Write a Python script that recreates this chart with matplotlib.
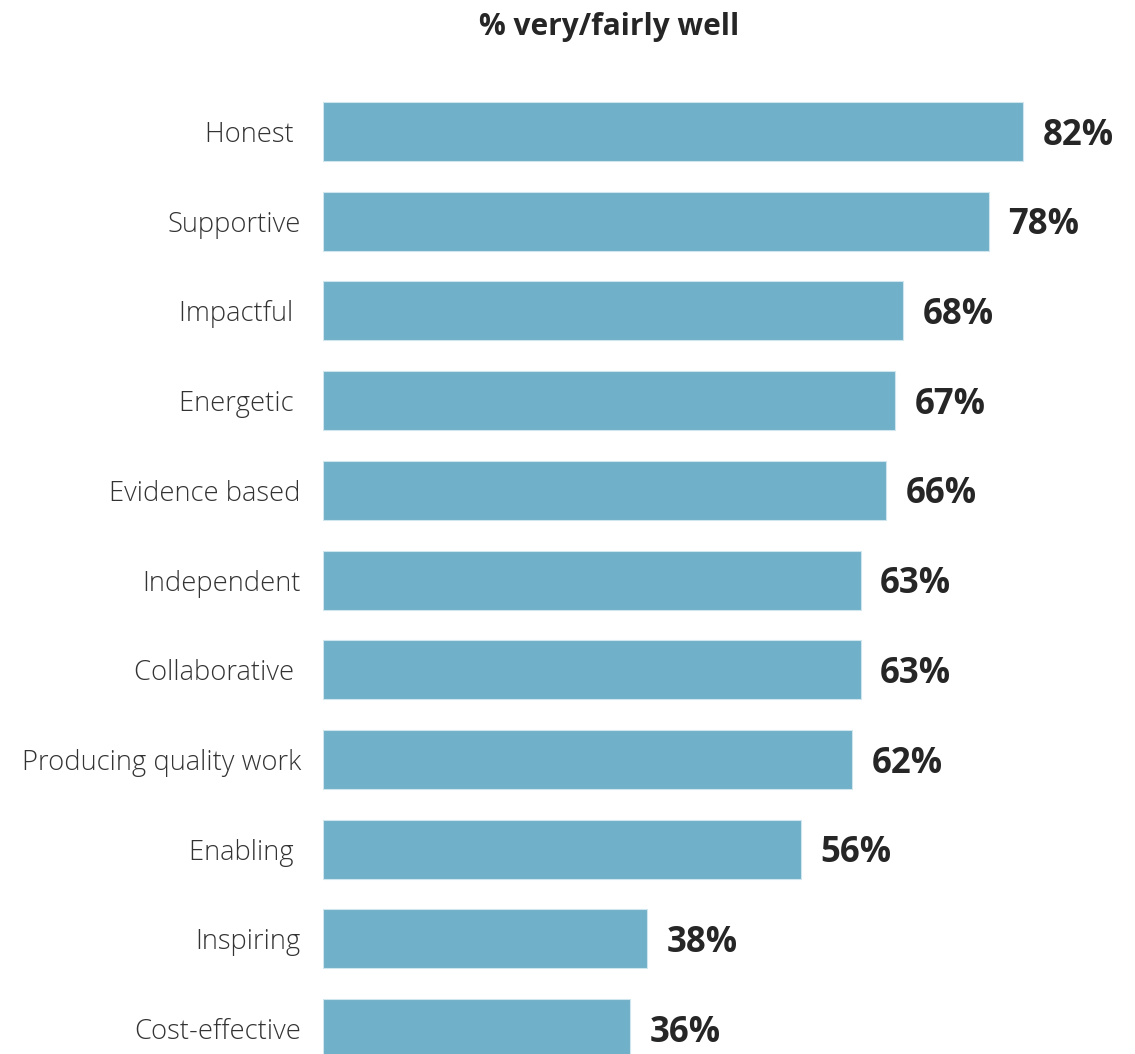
import matplotlib
matplotlib.use("Agg")
import matplotlib.pyplot as plt

categories = ["Honest ", "Supportive", "Impactful ", "Energetic ", "Evidence based",
              "Independent", "Collaborative ", "Producing quality work", "Enabling ",
              "Inspiring", "Cost-effective"]
values = [82, 78, 68, 67, 66, 63, 63, 62, 56, 38, 36]
title = "% very/fairly well"

bar_color = "#70b0c8"
label_color = "#333333"
value_color = "#262626"

W, H, DPI = 1135, 1054, 100
fig = plt.figure(figsize=(W / DPI, H / DPI), dpi=DPI)
fig.patch.set_facecolor("white")

left_px = 323
px_per_unit = 700 / 82
ax = fig.add_axes([left_px / W, 0, 1 - left_px / W, 1])
ax.set_xlim(0, (W - left_px) / px_per_unit)

pitch = 89.7
first_center = 131.5
ax.set_ylim((H - first_center) / pitch, -first_center / pitch)

ypos = list(range(len(categories)))
ax.barh(ypos, values, height=59 / pitch, color=bar_color,
        edgecolor="#cfe6ee", linewidth=0.8)

for y, v in zip(ypos, values):
    ax.annotate(f"{v}%", xy=(v, y), xytext=(14, -3), textcoords="offset points",
                ha="left", va="center", fontsize=25, fontweight="bold",
                color=value_color, family=["Open Sans", "DejaVu Sans"])

ax.set_yticks(ypos)
ax.set_yticklabels(categories, fontsize=19.7, color=label_color,
                   family=["Open Sans", "DejaVu Sans"], fontweight="light")
ax.tick_params(axis="y", length=0, pad=16)
ax.set_xticks([])
for s in ax.spines.values():
    s.set_visible(False)

fig.text(609 / W, 1 - 27 / H, title, ha="center", va="center", fontsize=21.5,
         fontweight="bold", color=value_color, family=["Open Sans", "DejaVu Sans"])

fig.savefig("out.png", dpi=DPI)
